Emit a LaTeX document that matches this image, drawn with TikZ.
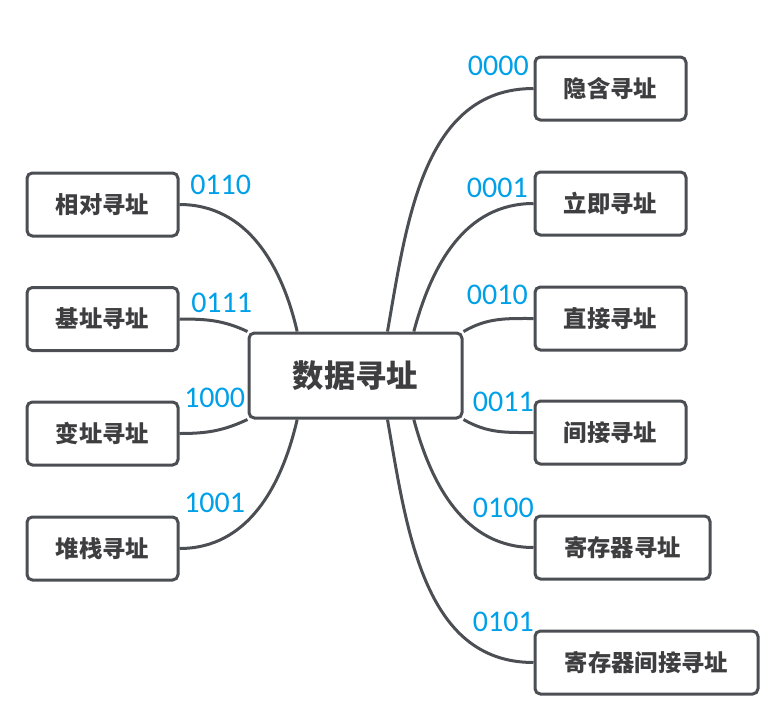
\documentclass[tikz,border=0pt]{standalone}
\usepackage{fontspec}
\setmainfont{Carlito}
\newfontfamily\cjk{Noto Sans CJK SC}
\usetikzlibrary{calc}
\definecolor{edgegray}{RGB}{75,78,83}
\definecolor{txtgray}{RGB}{62,62,64}
\definecolor{codeblue}{RGB}{0,160,233}
\tikzset{
  leaf/.style={draw=edgegray, line width=2.25pt, rounded corners=4pt, fill=white,
    minimum width=113.25pt, minimum height=47.25pt, inner sep=0pt,
    font=\cjk\bfseries\fontsize{17.5}{20}\selectfont, text=txtgray},
  hub/.style={leaf, minimum width=159.75pt, minimum height=63.75pt,
    font=\cjk\bfseries\fontsize{23.5}{28}\selectfont},
  link/.style={draw=edgegray, line width=2.25pt},
  code/.style={text=codeblue, font=\fontsize{22.5}{26}\selectfont, inner sep=0pt}
}
\begin{document}
\begin{tikzpicture}[x=0.75pt, y=-0.75pt]
\useasboundingbox (0,0) rectangle (768,708);

% centre topic
\node[hub] (c) at (355.5,375.5) {数据寻址};

% left branch
\node[leaf] (xd) at (102.5,204.5) {相对寻址};
\node[leaf] (jz) at (102.5,319)   {基址寻址};
\node[leaf] (bz) at (102.5,433.5) {变址寻址};
\node[leaf] (dz) at (102.5,548.5) {堆栈寻址};

% right branch
\node[leaf] (yh) at (610.5,88.5)  {隐含寻址};
\node[leaf] (lj) at (610.5,203.5) {立即寻址};
\node[leaf] (zj) at (610.5,318.5) {直接寻址};
\node[leaf] (jj) at (610.5,432.5) {间接寻址};
\node[leaf, minimum width=131.25pt] (jc) at (622.5,547.5) {寄存器寻址};
\node[leaf, minimum width=167.25pt] (jcj) at (646.5,662.5) {寄存器间接寻址};

% attachment points on the centre box
\coordinate (tl) at ($(c.north west)!0.23!(c.north east)$);
\coordinate (tm) at ($(c.north west)!0.648!(c.north east)$);
\coordinate (tr) at ($(c.north west)!0.77!(c.north east)$);
\coordinate (bl) at ($(c.south west)!0.23!(c.south east)$);
\coordinate (bm) at ($(c.south west)!0.648!(c.south east)$);
\coordinate (br) at ($(c.south west)!0.77!(c.south east)$);

% connectors
\draw[link] (xd.east) to[out=0,in=103] (tl);
\draw[link] (jz.east) to[out=0,in=155] (c.north west);
\draw[link] (bz.east) to[out=0,in=205] (c.south west);
\draw[link] (dz.east) to[out=0,in=257] (bl);
\draw[link] (tm) to[out=80,in=180] (yh.west);
\draw[link] (tr) to[out=75,in=180] (lj.west);
\draw[link] (c.north east) to[out=30,in=180] (zj.west);
\draw[link] (c.south east) to[out=-30,in=180] (jj.west);
\draw[link] (br) to[out=-75,in=180] (jc.west);
\draw[link] (bm) to[out=-80,in=180] (jcj.west);

% operand codes
\node[code, anchor=west] (k0110) at (190,185) {0110};
\node[code, anchor=west] (k0111) at (191,303) {0111};
\node[code, anchor=west] (k1000) at (184,398) {1000};
\node[code, anchor=west] (k1001) at (184,503) {1001};
\node[code, anchor=east] (k0000) at (529,66)  {0000};
\node[code, anchor=east] (k0001) at (528,188) {0001};
\node[code, anchor=east] (k0010) at (528,295) {0010};
\node[code, anchor=east] (k0011) at (534,402) {0011};
\node[code, anchor=east] (k0100) at (534,508) {0100};
\node[code, anchor=east] (k0101) at (534,622) {0101};
\end{tikzpicture}
\end{document}
